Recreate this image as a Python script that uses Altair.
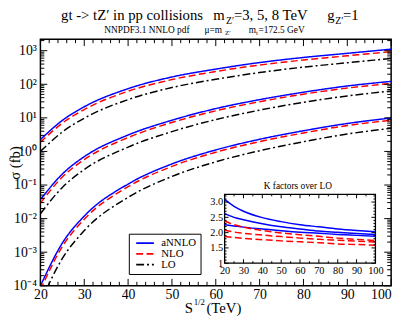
import altair as alt
import pandas as pd

# ---------------- data ----------------
sqrt_s = [20, 25, 30, 40, 50, 60, 70, 80, 90, 100]
masses = ["3 TeV", "5 TeV", "8 TeV"]
orders = ["aNNLO", "NLO", "LO"]

# m_Z' = 3 TeV
annlo_m3 = [2.26, 8.4, 21.4, 74, 165, 283, 444, 629, 835, 1110]
nlo_m3 = [1.87, 7.0, 17.7, 62, 138, 240, 374, 528, 704, 938]
lo_m3 = [1.0, 3.8, 9.8, 35, 80, 141, 224, 324, 437, 590]
# m_Z' = 5 TeV
annlo_m5 = [0.0367, 0.213, 0.70, 3.09, 8.5, 18.9, 34.9, 58, 89, 122]
nlo_m5 = [0.029, 0.173, 0.574, 2.59, 7.3, 16.2, 30.3, 50.8, 77, 106]
lo_m5 = [0.014, 0.085, 0.29, 1.35, 3.9, 8.9, 17, 29, 45, 63]
# m_Z' = 8 TeV
annlo_m8 = [9.9e-5, 1.87e-3, 0.0119, 0.107, 0.425, 1.11, 2.30, 4.13, 6.8, 9.9]
nlo_m8 = [7.6e-5, 1.48e-3, 9.6e-3, 0.089, 0.358, 0.946, 1.97, 3.55, 5.9, 8.5]
lo_m8 = [3.2e-5, 6.5e-4, 4.4e-3, 0.043, 0.18, 0.49, 1.05, 1.95, 3.3, 4.9]

# K factors over LO (inset)
k_x = [20, 25, 30, 40, 50, 60, 70, 80, 90, 100]
k_annlo_m8 = [3.09, 2.86, 2.70, 2.49, 2.36, 2.26, 2.19, 2.12, 2.07, 2.03]
k_annlo_m5 = [2.62, 2.50, 2.42, 2.29, 2.19, 2.12, 2.05, 2.01, 1.97, 1.94]
k_annlo_m3 = [2.26, 2.22, 2.18, 2.12, 2.06, 2.01, 1.98, 1.94, 1.91, 1.88]
k_nlo_m8 = [2.38, 2.26, 2.18, 2.07, 1.99, 1.93, 1.88, 1.82, 1.78, 1.74]
k_nlo_m5 = [2.08, 2.02, 1.98, 1.92, 1.87, 1.82, 1.78, 1.75, 1.72, 1.69]
k_nlo_m3 = [1.87, 1.84, 1.81, 1.77, 1.73, 1.70, 1.67, 1.63, 1.61, 1.59]

# axis ticks / labels
y_decades = [1e-4, 1e-3, 1e-2, 1e-1, 1, 10, 100, 1000]
y_labels = ["10⁻⁴", "10⁻³", "10⁻²", "10⁻¹", "10⁰", "10¹", "10²", "10³"]
x_major = [20, 30, 40, 50, 60, 70, 80, 90, 100]
x_minor = [v for v in range(22, 100, 2) if v % 10 != 0]
y_minor = [k * d for d in y_decades for k in range(2, 10) if k * d <= 2200]
inset_x_major = [20, 30, 40, 50, 60, 70, 80, 90, 100]
inset_x_minor = [25, 35, 45, 55, 65, 75, 85, 95]
inset_y_major = [1.0, 1.5, 2.0, 2.5, 3.0]
inset_y_minor = [round(1 + 0.1 * i, 2) for i in range(1, 23) if i % 5 != 0]

# ---------------- tables ----------------
rows = []
for m, series in zip(masses, [(annlo_m3, nlo_m3, lo_m3),
                              (annlo_m5, nlo_m5, lo_m5),
                              (annlo_m8, nlo_m8, lo_m8)]):
    for o, vals in zip(orders, series):
        for x, v in zip(sqrt_s, vals):
            rows.append(dict(x=x, sigma=v, order=o, mass=m))
df = pd.DataFrame(rows)

krows = []
for m, ka, kn in zip(masses, [k_annlo_m3, k_annlo_m5, k_annlo_m8],
                     [k_nlo_m3, k_nlo_m5, k_nlo_m8]):
    for x, a, n in zip(k_x, ka, kn):
        krows.append(dict(x=x, k=a, order="aNNLO", mass=m))
        krows.append(dict(x=x, k=n, order="NLO", mass=m))
kdf = pd.DataFrame(krows)

FONT = "Liberation Serif"
W, H = 357, 251
YMIN, YMAX = 1e-4, 2200
one = pd.DataFrame({"a": [0]})

xs = alt.Scale(domain=[20, 100], nice=False, zero=False)
ys = alt.Scale(type="log", domain=[YMIN, YMAX], nice=False)

parts = [f"datum.value < {d * 3} ? '{lab}'" for d, lab in zip(y_decades[:-1], y_labels[:-1])]
y_label_expr = " : ".join(parts) + f" : '{y_labels[-1]}'"

x_axis = alt.Axis(values=x_major, format="d", ticks=False, domain=False, grid=False,
                  labelFont=FONT, labelFontSize=14, labelColor="black", labelPadding=2,
                  labelAlign={"condition": {"test": "datum.value == 100", "value": "right"},
                              "value": "center"},
                  title=None, labelFlush=False, labelOverlap=False)
y_axis = alt.Axis(values=y_decades, labelExpr=y_label_expr, ticks=False, domain=False, grid=False,
                  labelFont=FONT, labelFontSize=14, labelColor="black", labelPadding=4,
                  title=None, labelFlush=False, labelOverlap=False)

legend = alt.Legend(orient="none", legendX=90, legendY=198, title=None,
                    fillColor="white", strokeColor="black", padding=4,
                    labelFont=FONT, labelFontSize=11, labelColor="black",
                    symbolType="M-3,0H3", symbolSize=36, symbolStrokeWidth=1.8,
                    symbolOffset=7, labelOffset=11, rowPadding=-1)

lines = alt.Chart(df).mark_line(strokeWidth=1.5, clip=True, interpolate="monotone").encode(
    x=alt.X("x:Q", scale=xs, axis=x_axis),
    y=alt.Y("sigma:Q", scale=ys, axis=y_axis),
    color=alt.Color("order:N", scale=alt.Scale(domain=orders, range=["#0000ff", "#ff0000", "#000000"]),
                    legend=legend),
    strokeDash=alt.StrokeDash("order:N", scale=alt.Scale(domain=orders,
                                                         range=[[1, 0], [7, 3.5], [8, 3, 2, 3]]),
                              legend=legend),
    detail="mass:N",
)


def yticks(vals, scale, axis, x_left, x_right):
    d = pd.DataFrame({"x": vals})
    return alt.Chart(d).mark_rule(color="black", strokeWidth=1).encode(
        y=alt.Y("x:Q", scale=scale, axis=axis), x=alt.value(x_left), x2=alt.value(x_right))


def xticks(vals, scale, axis, y_a, y_b):
    d = pd.DataFrame({"x": vals})
    return alt.Chart(d).mark_rule(color="black", strokeWidth=1).encode(
        x=alt.X("x:Q", scale=scale, axis=axis), y=alt.value(y_a), y2=alt.value(y_b))


def text(txt, x, y, size, align="left", angle=None, baseline="alphabetic"):
    kw = dict(text=txt, font=FONT, fontSize=size, align=align, baseline=baseline, color="black")
    if angle is not None:
        kw["angle"] = angle
    return alt.Chart(one).mark_text(**kw).encode(x=alt.value(x), y=alt.value(y))


MAJ, MIN = 7, 4
main_ticks = [
    yticks(y_decades, ys, y_axis, 0, MAJ), yticks(y_minor, ys, y_axis, 0, MIN),
    yticks(y_decades, ys, y_axis, W - MAJ, W), yticks(y_minor, ys, y_axis, W - MIN, W),
    xticks(x_major, xs, x_axis, H, H - MAJ), xticks(x_minor, xs, x_axis, H, H - MIN),
    xticks(x_major, xs, x_axis, 0, MAJ), xticks(x_minor, xs, x_axis, 0, MIN),
]

texts = [
    text("gt -> tZ′  in  pp collisions", 21, -19.5, 15),
    text("m", 176, -19.5, 15), text("Z′", 189, -15.5, 10), text("=3, 5, 8 TeV", 197, -19.5, 15),
    text("g", 292, -19.5, 15), text("Z′", 300, -15.5, 10), text("=1", 308, -19.5, 15),
    text("NNPDF3.1 NNLO pdf", 65, -6.5, 9.5),
    text("μ=m", 167, -6.5, 9.5), text("Z′", 188, -4, 7),
    text("m", 212, -6.5, 9.5), text("t", 219.5, -4, 7), text("=172.5 GeV", 222, -6.5, 9.5),
    text("S", 147, 278.5, 15), text("1/2", 156, 271, 9), text("(TeV)", 169, 278.5, 15),
    text("σ (fb)", -21, 126, 15, align="center", angle=270),
]

main = alt.layer(lines, *main_ticks, *texts)

# ---------------- inset ----------------
IX0, IX1, IY0, IY1 = 187.5, 341, 228, 158
xi = alt.Scale(domain=[20, 100], range=[IX0, IX1], nice=False, zero=False)
yi = alt.Scale(domain=[1, 3.25], range=[IY0, IY1], nice=False, zero=False)

ix_axis = alt.Axis(orient="bottom", offset=-(H - IY0), values=inset_x_major, format="d",
                   ticks=False, domain=False, grid=False, labelFont=FONT, labelFontSize=10.5,
                   labelColor="black", labelPadding=2, title=None, zindex=2, labelFlush=False,
                   labelOverlap=False)
iy_axis = alt.Axis(orient="left", offset=-IX0, values=inset_y_major,
                   labelExpr="datum.value == 1 ? '1' : format(datum.value, '.1f')",
                   ticks=False, domain=False, grid=False, labelFont=FONT, labelFontSize=10.5,
                   labelColor="black", labelPadding=2, title=None, zindex=2, labelFlush=False,
                   labelOverlap=False)

frame = pd.DataFrame({"x": [20], "x1": [100], "k": [1], "k1": [3.25]})
inset_box = alt.Chart(frame).mark_rect(fill="white", stroke="black", strokeWidth=1.3).encode(
    x=alt.X("x:Q", scale=xi, axis=ix_axis), x2="x1:Q",
    y=alt.Y("k:Q", scale=yi, axis=iy_axis), y2="k1:Q",
)

IMAJ, IMIN = 4, 2
inset_ticks = [
    yticks(inset_y_major, yi, iy_axis, IX0, IX0 + IMAJ), yticks(inset_y_minor, yi, iy_axis, IX0, IX0 + IMIN),
    yticks(inset_y_major, yi, iy_axis, IX1 - IMAJ, IX1), yticks(inset_y_minor, yi, iy_axis, IX1 - IMIN, IX1),
    xticks(inset_x_major, xi, ix_axis, IY0, IY0 - IMAJ), xticks(inset_x_minor, xi, ix_axis, IY0, IY0 - IMIN),
    xticks(inset_x_major, xi, ix_axis, IY1, IY1 + IMAJ), xticks(inset_x_minor, xi, ix_axis, IY1, IY1 + IMIN),
]

k_annlo = alt.Chart(kdf[kdf.order == "aNNLO"]).mark_line(
    color="#0000ff", strokeWidth=1.5, interpolate="monotone").encode(
    x=alt.X("x:Q", scale=xi, axis=ix_axis), y=alt.Y("k:Q", scale=yi, axis=iy_axis), detail="mass:N")
k_nlo = alt.Chart(kdf[kdf.order == "NLO"]).mark_line(
    color="#ff0000", strokeWidth=1.5, strokeDash=[7, 3.5], interpolate="monotone").encode(
    x=alt.X("x:Q", scale=xi, axis=ix_axis), y=alt.Y("k:Q", scale=yi, axis=iy_axis), detail="mass:N")

inset_title = text("K factors over LO", 262, 152, 9.5, align="center")

inset = alt.layer(inset_box, k_annlo, k_nlo, *inset_ticks, inset_title)

chart = alt.layer(main, inset).resolve_scale(
    x="independent", y="independent"
).resolve_axis(
    x="independent", y="independent"
).properties(
    width=W, height=H,
    padding={"left": 33, "top": 29, "right": 8, "bottom": 28},
    autosize=alt.AutoSizeParams(type="none"),
    background="white",
).configure_view(
    stroke="black", strokeWidth=1.5
).configure_axis(
    labelFont=FONT, labelColor="black"
).configure_legend(
    labelFont=FONT, labelColor="black"
)

chart.save("out.html", embed_options={"renderer": "svg", "actions": False})
